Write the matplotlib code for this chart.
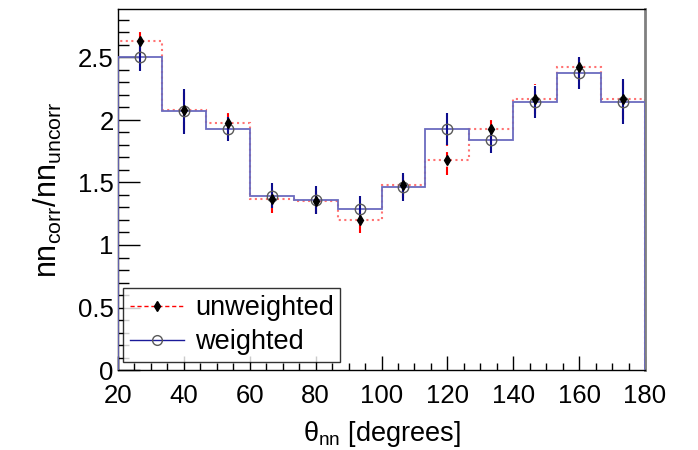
import numpy as np
import matplotlib
matplotlib.use("Agg")
import matplotlib.pyplot as plt
from matplotlib.lines import Line2D
from matplotlib.ticker import MultipleLocator

plt.rcParams['font.family'] = ['Liberation Sans', 'DejaVu Sans']
plt.rcParams['mathtext.fontset'] = 'custom'
plt.rcParams['mathtext.rm'] = 'Liberation Sans'
plt.rcParams['mathtext.it'] = 'Liberation Sans:italic'

# bin edges (theta_nn, degrees)
edges = np.linspace(20, 180, 13)

# unweighted ratio and errors
unweighted = [2.63, 2.08, 1.975, 1.367, 1.348, 1.201, 1.48, 1.681, 1.927, 2.17, 2.424, 2.17]
unweighted_err = [0.11, 0.16, 0.10, 0.11, 0.10, 0.107, 0.10, 0.125, 0.11, 0.12, 0.11, 0.16]

# weighted ratio and errors
weighted = [2.50, 2.07, 1.93, 1.396, 1.361, 1.287, 1.463, 1.927, 1.841, 2.146, 2.375, 2.146]
weighted_err = [0.11, 0.18, 0.094, 0.10, 0.11, 0.106, 0.11, 0.13, 0.106, 0.13, 0.13, 0.18]

centers = 0.5 * (edges[:-1] + edges[1:])

fig = plt.figure(figsize=(6.98, 4.5), dpi=100)
ax = fig.add_axes([118 / 698, 80 / 450, 527 / 698, 361 / 450])

red_line = (1.0, 0.45, 0.45)
blue_line = (0.42, 0.42, 0.75)

ax.stairs(unweighted, edges, color=red_line, linestyle=':', linewidth=1.5, zorder=2)
ax.stairs(weighted, edges, color=blue_line, linestyle='-', linewidth=1.3, zorder=3)

eb1 = ax.errorbar(centers, unweighted, yerr=unweighted_err, fmt='none',
                  ecolor='red', elinewidth=1.5, capsize=0, zorder=4)
eb1[2][0].set_linestyle((0, (4, 3)))
ax.errorbar(centers, weighted, yerr=weighted_err, fmt='none',
            ecolor=(0.05, 0.05, 0.55), elinewidth=1.5, capsize=0, zorder=5)

ax.plot(centers, weighted, linestyle='none', marker='o', markersize=7.5,
        markerfacecolor='none', markeredgecolor=(0.35, 0.35, 0.35),
        markeredgewidth=1.0, zorder=6)
ax.plot(centers, unweighted, linestyle='none', marker='d', markersize=5.5,
        color='black', zorder=7)

ax.set_xlim(20, 180)
ax.set_ylim(0, 2.888)

ax.xaxis.set_major_locator(MultipleLocator(20))
ax.xaxis.set_minor_locator(MultipleLocator(5))
ax.yaxis.set_major_locator(MultipleLocator(0.5))
ax.yaxis.set_minor_locator(MultipleLocator(0.1))
ax.yaxis.set_major_formatter(plt.FuncFormatter(lambda v, p: ('%g' % v)))

ax.tick_params(axis='x', which='major', direction='in', length=10, width=1,
               labelsize=18.5, pad=10, top=False)
ax.tick_params(axis='x', which='minor', direction='in', length=5, width=1, top=False)
ax.tick_params(axis='y', which='major', direction='in', length=16, width=1,
               labelsize=18.5, pad=3, right=False)
ax.tick_params(axis='y', which='minor', direction='in', length=8, width=1, right=False)

ax.spines['right'].set_color((0.5, 0.5, 0.5))
ax.spines['right'].set_linewidth(2)
for s in ['left', 'bottom', 'top']:
    ax.spines[s].set_linewidth(1)
    ax.spines[s].set_color('black')

ax.set_xlabel(r'θ$_{\mathrm{nn}}$ [degrees]', fontsize=19.5, labelpad=8)
ax.set_ylabel(r'nn$_{\mathrm{corr}}$/nn$_{\mathrm{uncorr}}$', fontsize=22, labelpad=10)

handles = [
    Line2D([], [], color='red', linestyle=(0, (3, 2)), linewidth=1,
           marker='d', markersize=5, markerfacecolor='black', markeredgecolor='black'),
    Line2D([], [], color=(0.1, 0.1, 0.6), linestyle='-', linewidth=1,
           marker='o', markersize=7, markerfacecolor='none',
           markeredgecolor=(0.35, 0.35, 0.35)),
]
leg = ax.legend(handles, ['unweighted', 'weighted'], loc='lower left',
                bbox_to_anchor=(5 / 527, 8 / 361), fontsize=19.5, frameon=True,
                fancybox=False, edgecolor='black', handlelength=2.0,
                borderpad=0.25, labelspacing=0.3, handletextpad=0.4,
                borderaxespad=0)
leg.get_frame().set_linewidth(1)

fig.savefig('out.png', dpi=100)
